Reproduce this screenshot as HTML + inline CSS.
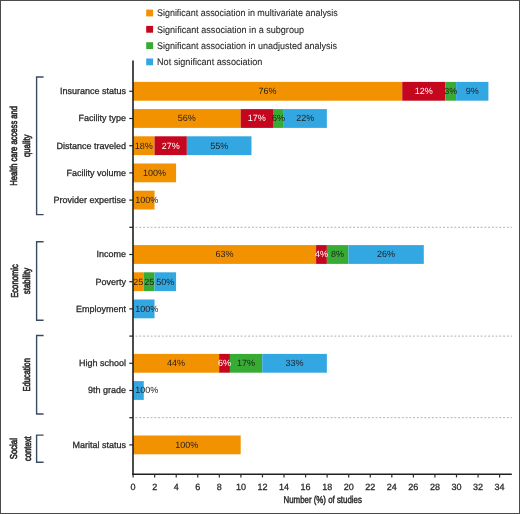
<!DOCTYPE html><html><head><meta charset="utf-8"><style>html,body{margin:0;padding:0;background:#fff}svg{display:block;will-change:transform}text{font-family:"Liberation Sans",sans-serif;text-rendering:geometricPrecision}</style></head><body>
<svg width="520" height="514" viewBox="0 0 520 514">
<rect x="0" y="0" width="520" height="514" fill="#fff"/>
<rect x="0.5" y="0.5" width="519" height="513" fill="none" stroke="#4a4a4a" stroke-width="1"/>
<rect x="146.2" y="9.6" width="6.9" height="6.8" fill="#F39200"/>
<text x="157.00" y="16.20" font-size="9.6" fill="#2a2a2a" stroke="#2a2a2a" stroke-width="0.1" textLength="180.8" lengthAdjust="spacingAndGlyphs">Significant association in multivariate analysis</text>
<rect x="146.2" y="25.9" width="6.9" height="6.8" fill="#C4061E"/>
<text x="157.00" y="32.60" font-size="9.6" fill="#2a2a2a" stroke="#2a2a2a" stroke-width="0.1" textLength="147" lengthAdjust="spacingAndGlyphs">Significant association in a subgroup</text>
<rect x="146.2" y="42.2" width="6.9" height="6.8" fill="#38AB35"/>
<text x="157.00" y="49.00" font-size="9.6" fill="#2a2a2a" stroke="#2a2a2a" stroke-width="0.1" textLength="180" lengthAdjust="spacingAndGlyphs">Significant association in unadjusted analysis</text>
<rect x="146.2" y="58.5" width="6.9" height="6.8" fill="#32A7E1"/>
<text x="157.00" y="65.40" font-size="9.6" fill="#2a2a2a" stroke="#2a2a2a" stroke-width="0.1" textLength="105.3" lengthAdjust="spacingAndGlyphs">Not significant association</text>
<rect x="133.00" y="81.90" width="269.25" height="18.8" fill="#F39200"/>
<rect x="402.25" y="81.90" width="43.08" height="18.8" fill="#C4061E"/>
<rect x="445.33" y="81.90" width="10.77" height="18.8" fill="#38AB35"/>
<rect x="456.10" y="81.90" width="32.31" height="18.8" fill="#32A7E1"/>
<text x="267.62" y="94.10" font-size="9" fill="#231F20" text-anchor="middle">76%</text>
<text x="423.79" y="94.10" font-size="9" fill="#fff" text-anchor="middle">12%</text>
<text x="450.71" y="94.10" font-size="9" fill="#231F20" text-anchor="middle">3%</text>
<text x="472.25" y="94.10" font-size="9" fill="#231F20" text-anchor="middle">9%</text>
<text x="126.00" y="94.20" font-size="9" fill="#2a2a2a" text-anchor="end" stroke="#2a2a2a" stroke-width="0.28">Insurance status</text>
<line x1="129.3" y1="91.30" x2="133" y2="91.30" stroke="#222" stroke-width="1.2"/>
<rect x="133.00" y="109.10" width="107.70" height="18.8" fill="#F39200"/>
<rect x="240.70" y="109.10" width="32.31" height="18.8" fill="#C4061E"/>
<rect x="273.01" y="109.10" width="10.77" height="18.8" fill="#38AB35"/>
<rect x="283.78" y="109.10" width="43.08" height="18.8" fill="#32A7E1"/>
<text x="186.85" y="121.30" font-size="9" fill="#231F20" text-anchor="middle">56%</text>
<text x="256.86" y="121.30" font-size="9" fill="#fff" text-anchor="middle">17%</text>
<text x="278.39" y="121.30" font-size="9" fill="#231F20" text-anchor="middle">6%</text>
<text x="305.32" y="121.30" font-size="9" fill="#231F20" text-anchor="middle">22%</text>
<text x="126.00" y="121.40" font-size="9" fill="#2a2a2a" text-anchor="end" stroke="#2a2a2a" stroke-width="0.28">Facility type</text>
<line x1="129.3" y1="118.50" x2="133" y2="118.50" stroke="#222" stroke-width="1.2"/>
<rect x="133.00" y="136.30" width="21.54" height="18.8" fill="#F39200"/>
<rect x="154.54" y="136.30" width="32.31" height="18.8" fill="#C4061E"/>
<rect x="186.85" y="136.30" width="64.62" height="18.8" fill="#32A7E1"/>
<text x="143.77" y="148.50" font-size="9" fill="#231F20" text-anchor="middle">18%</text>
<text x="170.69" y="148.50" font-size="9" fill="#fff" text-anchor="middle">27%</text>
<text x="219.16" y="148.50" font-size="9" fill="#231F20" text-anchor="middle">55%</text>
<text x="126.00" y="148.60" font-size="9" fill="#2a2a2a" text-anchor="end" stroke="#2a2a2a" stroke-width="0.28">Distance traveled</text>
<line x1="129.3" y1="145.70" x2="133" y2="145.70" stroke="#222" stroke-width="1.2"/>
<rect x="133.00" y="163.50" width="43.08" height="18.8" fill="#F39200"/>
<text x="154.54" y="175.70" font-size="9" fill="#231F20" text-anchor="middle">100%</text>
<text x="126.00" y="175.80" font-size="9" fill="#2a2a2a" text-anchor="end" stroke="#2a2a2a" stroke-width="0.28">Facility volume</text>
<line x1="129.3" y1="172.90" x2="133" y2="172.90" stroke="#222" stroke-width="1.2"/>
<rect x="133.00" y="190.70" width="21.54" height="18.8" fill="#F39200"/>
<text x="135.20" y="202.90" font-size="9" fill="#231F20">100%</text>
<text x="126.00" y="203.00" font-size="9" fill="#2a2a2a" text-anchor="end" stroke="#2a2a2a" stroke-width="0.28">Provider expertise</text>
<line x1="129.3" y1="200.10" x2="133" y2="200.10" stroke="#222" stroke-width="1.2"/>
<rect x="133.00" y="245.10" width="183.09" height="18.8" fill="#F39200"/>
<rect x="316.09" y="245.10" width="10.77" height="18.8" fill="#C4061E"/>
<rect x="326.86" y="245.10" width="21.54" height="18.8" fill="#38AB35"/>
<rect x="348.40" y="245.10" width="75.39" height="18.8" fill="#32A7E1"/>
<text x="224.55" y="257.30" font-size="9" fill="#231F20" text-anchor="middle">63%</text>
<text x="321.48" y="257.30" font-size="9" fill="#fff" text-anchor="middle">4%</text>
<text x="337.63" y="257.30" font-size="9" fill="#231F20" text-anchor="middle">8%</text>
<text x="386.09" y="257.30" font-size="9" fill="#231F20" text-anchor="middle">26%</text>
<text x="126.00" y="257.40" font-size="9" fill="#2a2a2a" text-anchor="end" stroke="#2a2a2a" stroke-width="0.28">Income</text>
<line x1="129.3" y1="254.50" x2="133" y2="254.50" stroke="#222" stroke-width="1.2"/>
<rect x="133.00" y="272.30" width="10.77" height="18.8" fill="#F39200"/>
<rect x="143.77" y="272.30" width="10.77" height="18.8" fill="#38AB35"/>
<rect x="154.54" y="272.30" width="21.54" height="18.8" fill="#32A7E1"/>
<text x="138.38" y="284.50" font-size="9" fill="#231F20" text-anchor="middle">25</text>
<text x="149.16" y="284.50" font-size="9" fill="#231F20" text-anchor="middle">25</text>
<text x="165.31" y="284.50" font-size="9" fill="#231F20" text-anchor="middle">50%</text>
<text x="126.00" y="284.60" font-size="9" fill="#2a2a2a" text-anchor="end" stroke="#2a2a2a" stroke-width="0.28">Poverty</text>
<line x1="129.3" y1="281.70" x2="133" y2="281.70" stroke="#222" stroke-width="1.2"/>
<rect x="133.00" y="299.50" width="21.54" height="18.8" fill="#32A7E1"/>
<text x="135.20" y="311.70" font-size="9" fill="#231F20">100%</text>
<text x="126.00" y="311.80" font-size="9" fill="#2a2a2a" text-anchor="end" stroke="#2a2a2a" stroke-width="0.28">Employment</text>
<line x1="129.3" y1="308.90" x2="133" y2="308.90" stroke="#222" stroke-width="1.2"/>
<rect x="133.00" y="353.90" width="86.16" height="18.8" fill="#F39200"/>
<rect x="219.16" y="353.90" width="10.77" height="18.8" fill="#C4061E"/>
<rect x="229.93" y="353.90" width="32.31" height="18.8" fill="#38AB35"/>
<rect x="262.24" y="353.90" width="64.62" height="18.8" fill="#32A7E1"/>
<text x="176.08" y="366.10" font-size="9" fill="#231F20" text-anchor="middle">44%</text>
<text x="224.55" y="366.10" font-size="9" fill="#fff" text-anchor="middle">6%</text>
<text x="246.09" y="366.10" font-size="9" fill="#231F20" text-anchor="middle">17%</text>
<text x="294.55" y="366.10" font-size="9" fill="#231F20" text-anchor="middle">33%</text>
<text x="126.00" y="366.20" font-size="9" fill="#2a2a2a" text-anchor="end" stroke="#2a2a2a" stroke-width="0.28">High school</text>
<line x1="129.3" y1="363.30" x2="133" y2="363.30" stroke="#222" stroke-width="1.2"/>
<rect x="133.00" y="381.10" width="10.77" height="18.8" fill="#32A7E1"/>
<text x="135.20" y="393.30" font-size="9" fill="#231F20">100%</text>
<text x="126.00" y="393.40" font-size="9" fill="#2a2a2a" text-anchor="end" stroke="#2a2a2a" stroke-width="0.28">9th grade</text>
<line x1="129.3" y1="390.50" x2="133" y2="390.50" stroke="#222" stroke-width="1.2"/>
<rect x="133.00" y="435.50" width="107.70" height="18.8" fill="#F39200"/>
<text x="186.85" y="447.70" font-size="9" fill="#231F20" text-anchor="middle">100%</text>
<text x="126.00" y="447.80" font-size="9" fill="#2a2a2a" text-anchor="end" stroke="#2a2a2a" stroke-width="0.28">Marital status</text>
<line x1="129.3" y1="444.90" x2="133" y2="444.90" stroke="#222" stroke-width="1.2"/>
<line x1="135.6" y1="227.30" x2="512" y2="227.30" stroke="#b0b0b0" stroke-width="1" stroke-dasharray="1.9 1.85"/>
<line x1="129.3" y1="227.30" x2="133" y2="227.30" stroke="#222" stroke-width="1.2"/>
<line x1="135.6" y1="336.10" x2="512" y2="336.10" stroke="#b0b0b0" stroke-width="1" stroke-dasharray="1.9 1.85"/>
<line x1="129.3" y1="336.10" x2="133" y2="336.10" stroke="#222" stroke-width="1.2"/>
<line x1="135.6" y1="417.70" x2="512" y2="417.70" stroke="#b0b0b0" stroke-width="1" stroke-dasharray="1.9 1.85"/>
<line x1="129.3" y1="417.70" x2="133" y2="417.70" stroke="#222" stroke-width="1.2"/>
<line x1="133" y1="60.4" x2="133" y2="474.9" stroke="#1e1e1e" stroke-width="1.6"/>
<line x1="132.2" y1="474.2" x2="511.8" y2="474.2" stroke="#1e1e1e" stroke-width="1.6"/>
<line x1="133.10" y1="474.2" x2="133.10" y2="477.4" stroke="#2a2a2a" stroke-width="1.2"/>
<text x="133.10" y="489.60" font-size="9" fill="#2a2a2a" text-anchor="middle" stroke="#2a2a2a" stroke-width="0.28">0</text>
<line x1="154.66" y1="474.2" x2="154.66" y2="477.4" stroke="#2a2a2a" stroke-width="1.2"/>
<text x="154.66" y="489.60" font-size="9" fill="#2a2a2a" text-anchor="middle" stroke="#2a2a2a" stroke-width="0.28">2</text>
<line x1="176.22" y1="474.2" x2="176.22" y2="477.4" stroke="#2a2a2a" stroke-width="1.2"/>
<text x="176.22" y="489.60" font-size="9" fill="#2a2a2a" text-anchor="middle" stroke="#2a2a2a" stroke-width="0.28">4</text>
<line x1="197.78" y1="474.2" x2="197.78" y2="477.4" stroke="#2a2a2a" stroke-width="1.2"/>
<text x="197.78" y="489.60" font-size="9" fill="#2a2a2a" text-anchor="middle" stroke="#2a2a2a" stroke-width="0.28">6</text>
<line x1="219.34" y1="474.2" x2="219.34" y2="477.4" stroke="#2a2a2a" stroke-width="1.2"/>
<text x="219.34" y="489.60" font-size="9" fill="#2a2a2a" text-anchor="middle" stroke="#2a2a2a" stroke-width="0.28">8</text>
<line x1="240.90" y1="474.2" x2="240.90" y2="477.4" stroke="#2a2a2a" stroke-width="1.2"/>
<text x="240.90" y="489.60" font-size="9" fill="#2a2a2a" text-anchor="middle" stroke="#2a2a2a" stroke-width="0.28">10</text>
<line x1="262.46" y1="474.2" x2="262.46" y2="477.4" stroke="#2a2a2a" stroke-width="1.2"/>
<text x="262.46" y="489.60" font-size="9" fill="#2a2a2a" text-anchor="middle" stroke="#2a2a2a" stroke-width="0.28">12</text>
<line x1="284.02" y1="474.2" x2="284.02" y2="477.4" stroke="#2a2a2a" stroke-width="1.2"/>
<text x="284.02" y="489.60" font-size="9" fill="#2a2a2a" text-anchor="middle" stroke="#2a2a2a" stroke-width="0.28">14</text>
<line x1="305.58" y1="474.2" x2="305.58" y2="477.4" stroke="#2a2a2a" stroke-width="1.2"/>
<text x="305.58" y="489.60" font-size="9" fill="#2a2a2a" text-anchor="middle" stroke="#2a2a2a" stroke-width="0.28">16</text>
<line x1="327.14" y1="474.2" x2="327.14" y2="477.4" stroke="#2a2a2a" stroke-width="1.2"/>
<text x="327.14" y="489.60" font-size="9" fill="#2a2a2a" text-anchor="middle" stroke="#2a2a2a" stroke-width="0.28">18</text>
<line x1="348.70" y1="474.2" x2="348.70" y2="477.4" stroke="#2a2a2a" stroke-width="1.2"/>
<text x="348.70" y="489.60" font-size="9" fill="#2a2a2a" text-anchor="middle" stroke="#2a2a2a" stroke-width="0.28">20</text>
<line x1="370.26" y1="474.2" x2="370.26" y2="477.4" stroke="#2a2a2a" stroke-width="1.2"/>
<text x="370.26" y="489.60" font-size="9" fill="#2a2a2a" text-anchor="middle" stroke="#2a2a2a" stroke-width="0.28">22</text>
<line x1="391.82" y1="474.2" x2="391.82" y2="477.4" stroke="#2a2a2a" stroke-width="1.2"/>
<text x="391.82" y="489.60" font-size="9" fill="#2a2a2a" text-anchor="middle" stroke="#2a2a2a" stroke-width="0.28">24</text>
<line x1="413.38" y1="474.2" x2="413.38" y2="477.4" stroke="#2a2a2a" stroke-width="1.2"/>
<text x="413.38" y="489.60" font-size="9" fill="#2a2a2a" text-anchor="middle" stroke="#2a2a2a" stroke-width="0.28">26</text>
<line x1="434.94" y1="474.2" x2="434.94" y2="477.4" stroke="#2a2a2a" stroke-width="1.2"/>
<text x="434.94" y="489.60" font-size="9" fill="#2a2a2a" text-anchor="middle" stroke="#2a2a2a" stroke-width="0.28">28</text>
<line x1="456.50" y1="474.2" x2="456.50" y2="477.4" stroke="#2a2a2a" stroke-width="1.2"/>
<text x="456.50" y="489.60" font-size="9" fill="#2a2a2a" text-anchor="middle" stroke="#2a2a2a" stroke-width="0.28">30</text>
<line x1="478.06" y1="474.2" x2="478.06" y2="477.4" stroke="#2a2a2a" stroke-width="1.2"/>
<text x="478.06" y="489.60" font-size="9" fill="#2a2a2a" text-anchor="middle" stroke="#2a2a2a" stroke-width="0.28">32</text>
<line x1="499.62" y1="474.2" x2="499.62" y2="477.4" stroke="#2a2a2a" stroke-width="1.2"/>
<text x="499.62" y="489.60" font-size="9" fill="#2a2a2a" text-anchor="middle" stroke="#2a2a2a" stroke-width="0.28">34</text>
<text x="322.70" y="502.50" font-size="10" fill="#2a2a2a" text-anchor="middle" stroke="#2a2a2a" stroke-width="0.45" textLength="78.4" lengthAdjust="spacingAndGlyphs">Number (%) of studies</text>
<path d="M43.6 77 H36.6 V214.6 H43.6" fill="none" stroke="#3b4a63" stroke-width="1.4"/>
<path d="M43.6 241.8 H36.6 V320.2 H43.6" fill="none" stroke="#3b4a63" stroke-width="1.4"/>
<path d="M43.6 335.5 H36.6 V414 H43.6" fill="none" stroke="#3b4a63" stroke-width="1.4"/>
<path d="M43.6 435.1 H36.6 V462.3 H43.6" fill="none" stroke="#3b4a63" stroke-width="1.4"/>
<text transform="translate(17.3 145.80) rotate(-90)" x="0" y="0" font-size="10" fill="#2a2a2a" stroke="#2a2a2a" stroke-width="0.6" text-anchor="middle" textLength="79.8" lengthAdjust="spacingAndGlyphs">Health care access and</text>
<text transform="translate(30.2 145.80) rotate(-90)" x="0" y="0" font-size="10" fill="#2a2a2a" stroke="#2a2a2a" stroke-width="0.6" text-anchor="middle" textLength="22.5" lengthAdjust="spacingAndGlyphs">quality</text>
<text transform="translate(18.0 281.00) rotate(-90)" x="0" y="0" font-size="10" fill="#2a2a2a" stroke="#2a2a2a" stroke-width="0.6" text-anchor="middle" textLength="33.7" lengthAdjust="spacingAndGlyphs">Economic</text>
<text transform="translate(30.3 281.00) rotate(-90)" x="0" y="0" font-size="10" fill="#2a2a2a" stroke="#2a2a2a" stroke-width="0.6" text-anchor="middle" textLength="26.5" lengthAdjust="spacingAndGlyphs">stability</text>
<text transform="translate(30.0 374.75) rotate(-90)" x="0" y="0" font-size="10" fill="#2a2a2a" stroke="#2a2a2a" stroke-width="0.6" text-anchor="middle" textLength="33.4" lengthAdjust="spacingAndGlyphs">Education</text>
<text transform="translate(17.3 448.70) rotate(-90)" x="0" y="0" font-size="10" fill="#2a2a2a" stroke="#2a2a2a" stroke-width="0.6" text-anchor="middle" textLength="21.2" lengthAdjust="spacingAndGlyphs">Social</text>
<text transform="translate(30.5 448.70) rotate(-90)" x="0" y="0" font-size="10" fill="#2a2a2a" stroke="#2a2a2a" stroke-width="0.6" text-anchor="middle" textLength="24.8" lengthAdjust="spacingAndGlyphs">context</text>
</svg></body></html>
